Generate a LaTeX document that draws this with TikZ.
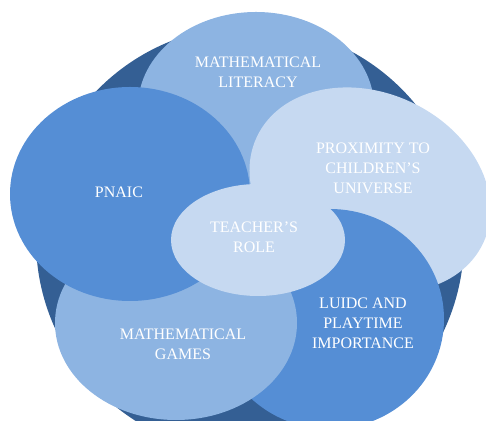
\documentclass[tikz,border=0pt]{standalone}
\usepackage{fontspec}
\setmainfont{Liberation Serif}
\usetikzlibrary{shapes.geometric}
\definecolor{ringDark}{RGB}{52, 95, 148}
\definecolor{petalMid}{RGB}{85, 142, 213}
\definecolor{petalSoft}{RGB}{141, 180, 226}
\definecolor{petalPale}{RGB}{198, 217, 241}

\tikzset{
  petal/.style={ellipse, inner sep=0pt},
  caption/.style={align=center, text=white, inner sep=0pt,
    font=\fontsize{8}{10}\selectfont},
}

\begin{document}
\begin{tikzpicture}[x=0.5pt, y=-0.5pt]
    \useasboundingbox (0,0) rectangle (486,421);
    \clip (0,0) rectangle (486,421);
    % dark disc behind the petals
    \node[circle, fill=ringDark, minimum size=214pt, inner sep=0pt] (ring) at (250,240) {};
    % petals, back to front
    \node[petal, fill=petalSoft, minimum width=118pt, minimum height=95pt] (lit) at (256,107) {};
    \node[petal, fill=petalPale, minimum width=125pt, minimum height=97pt, rotate=-25] (near) at (370,190) {};
    \node[petal, fill=petalMid, minimum width=114pt, minimum height=110pt] (luidc) at (330,319) {};
    \node[petal, fill=petalSoft, minimum width=121pt, minimum height=97pt] (games) at (176,323) {};
    \node[petal, fill=petalMid, minimum width=120pt, minimum height=107pt] (pnaic) at (130,194) {};
    \node[petal, fill=petalPale, minimum width=87pt, minimum height=56pt] (teacher) at (258,240) {};
    % labels
    \node[caption] (litText) at (258,72) {MATHEMATICAL\\LITERACY};
    \node[caption] (pnaicText) at (119,192) {PNAIC};
    \node[caption] (nearText) at (373,168) {PROXIMITY TO\\CHILDREN'S\\UNIVERSE};
    \node[caption] (teacherText) at (254,237) {TEACHER'S\\ROLE};
    \node[caption] (luidcText) at (363,323) {LUIDC AND\\PLAYTIME\\IMPORTANCE};
    \node[caption] (gamesText) at (183,344) {MATHEMATICAL\\GAMES};
\end{tikzpicture}
\end{document}
